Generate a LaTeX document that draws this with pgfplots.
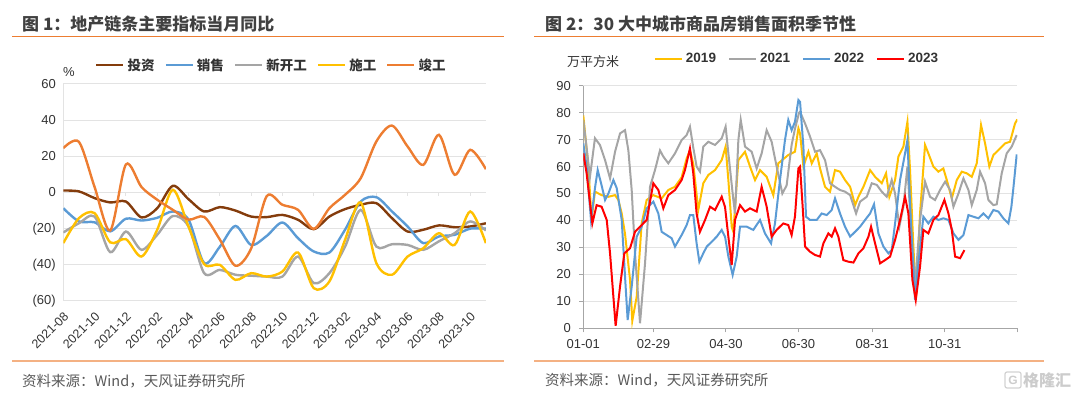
\documentclass[border=0pt]{standalone}
\usepackage{pgfplots}
\pgfplotsset{compat=1.18}
\usepackage{pgfplotstable}
\usepackage{fontspec}
\setmainfont{Liberation Sans}
\newfontfamily\cjk{Noto Sans CJK SC}
\definecolor{cInv}{HTML}{843C0C}
\definecolor{cBlue}{HTML}{5B9BD5}
\definecolor{cGray}{HTML}{A5A5A5}
\definecolor{cYel}{HTML}{FFC000}
\definecolor{cOra}{HTML}{ED7D31}
\definecolor{cRed}{HTML}{FF0000}
\definecolor{rule1}{HTML}{ED7D31}
\definecolor{rule2}{HTML}{F4B183}
\definecolor{cGrid}{HTML}{E3E3E3}
\definecolor{txt}{HTML}{333333}
\definecolor{ttl}{HTML}{404040}
\definecolor{src}{HTML}{595959}

\pgfplotstableread{
i inv sales newst cons comp
0 1.1 -8.7 -22.1 -28 24.5
1 0.6 -16 -17 -14.2 28
2 -3.1 -16.5 -13.3 -11.4 3
3 -5.5 -21.5 -33 -27.6 -21
4 -5 -14.5 -21.6 -25.8 15.5
5 -13.8 -15.5 -31.7 -35.4 3
6 -8.7 -14 -23.4 -20.6 -4
7 3.7 -10.5 -13 1.5 -9.6
8 -3.7 -15 -18.8 -18.8 -15
9 -10.5 -39 -44.6 -39.6 -13.5
10 -8.1 -30 -42.8 -40 -26
11 -10 -18.5 -45.5 -48.3 -40.5
12 -13.3 -29 -46 -44.6 -31
13 -13.6 -24 -46.5 -46.5 -2
14 -12.4 -16.6 -46.5 -43.7 -6.8
15 -15.1 -25.3 -35.4 -33.2 -9.6
16 -20.3 -32.6 -50.1 -52.9 -20.1
17 -13.3 -33.2 -44.6 -49.2 -8.7
18 -9.2 -20.6 -30 -26.2 -1.3
19 -6.8 -5 -9.6 -5.5 7.9
20 -5.9 -2.6 -29.9 -39 28.2
21 -14.2 -10.5 -28.6 -45.5 37
22 -21.6 -18.8 -29 -35.4 25.4
23 -20.6 -28 -31.7 -30.8 15.3
24 -18.2 -24.3 -27 -22.5 31.9
25 -19.2 -23.4 -22.5 -29 9.8
26 -18.8 -20 -16 -10.5 23.6
27 -17 -20 -21 -28 12.9
}\tabA

\pgfplotstableread{
d v
0 79
4.2 60
7 40.5
9.8 50.7
15.4 49.4
21.1 48.8
26.7 49.4
29.5 47.6
32.3 42.6
35.1 35
39.3 18
41.2 2.8
44.9 11.7
49.1 39
53.3 47.6
58.9 49.4
65.9 48.2
71.5 51.3
77.1 52.5
82.7 56
86.9 63
89.7 66
92.5 61
96.7 43.9
100.9 53.8
105.2 56.9
110.8 58.7
116.4 62.4
119.7 67.4
122 55
124.8 37.7
126.2 35.8
130.4 62.4
136 65.5
140.2 60
144.4 55
148.6 58.7
154.2 56.2
159.8 49.4
164 61.2
172.4 64.3
178 65.5
180.9 74.2
182.3 72.3
185.1 60
189.3 65.5
192.1 61.2
196.3 64.9
199.1 59.3
203.3 52.5
207.5 50.7
211.7 58.7
215.9 58.1
220.1 55
224.4 52.5
228.6 45.7
231.4 48.8
235.6 52.5
241.2 58.7
245.4 56.2
251 53.8
254.6 57.5
257.4 48.8
262.2 55
265 63.7
269.2 67.4
272.6 76.6
274.8 58.7
277.6 30.3
279.9 11.7
283.2 42.6
287.4 68
290.2 64.9
294.4 60
298.6 58.1
302.8 59.3
305.7 55
309.9 48.2
314.1 55
318.3 58.1
322.5 57.5
326.7 56.2
330.9 61.2
334.5 75.4
337.9 68.6
341.5 60
344.9 64.3
350.5 66.7
354.7 68.6
358.9 69.2
363.1 76
365 77.5
}\tabB

\pgfplotstableread{
d v
0 77.3
2.8 67
5.6 56.2
9.8 70.5
14 68
18.3 62.4
22.5 55.6
26.7 65.5
30.9 72.3
35.1 73.5
37.9 66
40.7 51.3
43.5 27.8
47.7 1.9
51.9 24
56.1 52.5
60.3 58.7
64.5 66
67.3 63.7
71.5 61.2
77.1 64.9
82.7 69.8
86.9 71.7
89.7 74.8
92.5 67
95.3 60
98.1 58.1
100.9 67.4
105.2 69.2
110.8 68
116.4 70.5
119.7 74.8
122 64.9
126.2 47.6
127.6 42.6
130.4 69.8
132.4 77.3
136 67.4
141.6 65.5
145.8 59.3
150 64.9
154.2 73.5
158.4 69.2
162.6 60
167.4 50
171 53
175.2 68
178 74
181.5 80
182.3 80.3
186.5 76
190.7 71.1
194.9 65.5
199.1 66.1
203.3 62.4
207.5 53.8
211.7 52.5
215.9 51.3
220.1 50.7
224.4 49.4
229.4 42.6
232.8 47
238.4 48.8
242.6 53.8
246.8 53.2
251 50.7
255.2 48.8
259.4 55
262.2 50
265.8 37.7
269.2 45.1
272.6 60
275.7 36.5
279 16
283.2 40.2
287.4 54.4
291.6 48.8
295.8 47.6
300 51.3
304.3 54.4
308.5 51.3
311.3 45.1
315.5 50
319.7 55.6
323.9 51.3
326.7 45.7
330.9 51.3
333.7 58.1
337.9 53.8
340.7 47.6
344.9 45.7
347.7 46
351.9 57.5
356.1 64.9
360.3 67.4
364.5 71.7
}\tabC

\pgfplotstableread{
d v
0 68.6
2.8 60
6.5 40
9.8 52
12.1 58.7
15.4 53
18.3 47.6
21.1 50
25.3 55
28.1 52
32.3 40.2
35.1 19.2
37.3 3.1
40.7 15.5
44.9 34
49.1 37.7
53.3 44.5
58.9 47
63.1 42.6
65.9 35.8
70.1 34.6
74.3 33.4
77.1 30.3
82.7 34.6
86.9 38.3
89.7 42
92.5 42
95.3 31.5
97.6 24.7
100.9 27.8
103.8 30.3
108 32.1
112.2 34
116.4 36.5
119.2 34
122 26.6
125.6 19.8
129 26.6
131.8 37.7
137.4 37.7
143 36.5
148.6 40.2
152.8 35.2
157.9 31.5
161.2 38.9
165.4 55
169.6 69.8
172.4 77.3
175.2 73.5
178 76.6
180.9 84.7
182.3 84
185.1 67.4
187.3 41.4
190.7 40.2
196.3 40.2
200.5 42.6
204.7 42
208.9 43.9
211.7 48.2
215.9 42.6
220.1 37.7
224.4 34
228.6 35.8
232.8 37.7
237 40.2
241.2 42.6
244.5 46
248.2 35.2
252.4 30.3
256.6 27.8
259.4 29
262.2 38.9
266.4 55
270.6 64.9
272.6 69.8
275.4 40.2
279 10.5
281.8 24.1
286 41.4
290.2 38.9
294.4 41.4
298.6 40.2
302.8 40.8
307.1 40.2
311.3 35.2
315.5 32.8
319.7 34.6
323.9 42
328.1 41.4
332.3 40.8
336.5 42.6
340.7 40.8
344.9 43.9
349.1 43.3
353.3 40.8
357.5 38.9
360 45
361.7 52
364.5 64.5
}\tabD

\pgfplotstableread{
d v
0 64.9
2.8 57.5
7.6 38.9
11.2 45.7
15.4 45.1
19.7 40.2
22.5 27.8
25.3 11.7
27.2 0.9
30.9 15.5
34.5 27.8
39.3 29.7
43.5 35.8
47.7 37.7
53.3 40.2
58.9 53.8
63.1 51.3
67.3 44.5
71.5 49.4
77.1 51.3
82.7 55
85.5 58.7
89.7 66.7
92.5 57.5
95.3 42.6
98.1 35.8
102.4 40.2
106.6 45.1
110.8 43.9
116.4 48.8
119.2 45
122 34
124.8 23.5
127.6 40.2
131.8 45.7
136 43.3
140.2 44.5
145.8 43.3
150 52.5
154.2 45.1
158.4 34
162.6 36.5
168.2 38.9
172.4 38.3
175.2 34.6
178 41.4
180.9 59.3
182.3 60
184.5 45
186.5 30.3
190.7 28.4
194.9 27.2
199.1 26.6
201.9 31.5
206.1 35.2
208.9 34
211.7 37.1
214.5 34
218.7 25.3
223 24.7
227.2 24.4
231.4 27.8
235.6 29.7
239.8 34
242 37.7
245.4 31.5
249.6 24.1
253.8 25.3
258 26.6
262.2 32.8
266.4 40.2
270.6 48.8
273.4 42.6
276.8 17.9
279.6 10.5
283.2 22.9
286 36.5
290.2 35.2
294.4 40.2
298.6 42
303.7 47.6
307.1 42.6
309.9 36.5
312.7 26.6
316.9 26
320.5 29
}\tabE

\newcommand{\fs}[1]{\fontsize{#1pt}{#1pt}\selectfont}

\begin{document}
\begin{tikzpicture}
\useasboundingbox (0pt,0pt) rectangle (1080pt,396pt);
% titles and rules
\node[anchor=west, inner sep=0pt, text=ttl] at (22pt,372pt) {\cjk\bfseries\fs{17}图 1：地产链条主要指标当月同比};
\node[anchor=west, inner sep=0pt, text=ttl] at (545pt,372pt) {\cjk\bfseries\fs{17}图 2：30 大中城市商品房销售面积季节性};
\draw[rule1, line width=1.4pt] (12pt,359.3pt) -- (504pt,359.3pt);
\draw[rule1, line width=1.4pt] (534pt,359.3pt) -- (1044pt,359.3pt);
\draw[rule2, line width=2.6pt] (12pt,35pt) -- (504pt,35pt);
\draw[rule2, line width=2.6pt] (534pt,35pt) -- (1044pt,35pt);
\node[anchor=west, inner sep=0pt, text=src] at (22pt,15pt) {\cjk\fs{14.5}资料来源：Wind，天风证券研究所};
\node[anchor=west, inner sep=0pt, text=src] at (545pt,16pt) {\cjk\fs{14.5}资料来源：Wind，天风证券研究所};
% watermark
\draw[gray!35, line width=1.2pt, rounded corners=2pt] (1005pt,8pt) rectangle (1021pt,24pt);
\node[anchor=center, inner sep=0pt, text=gray!40] at (1013pt,16pt) {\bfseries\fs{12}G};
\node[anchor=west, inner sep=0pt, text=gray!40] at (1023pt,16pt) {\cjk\bfseries\fs{16}格隆汇};
% units
\node[anchor=west, inner sep=0pt, text=txt] at (63pt,324pt) {\fs{13}\%};
\node[anchor=west, inner sep=0pt, text=txt] at (567pt,334pt) {\cjk\fs{13}万平方米};

% ---------- chart 1 ----------
\begin{axis}[
  at={(63.3pt,95pt)}, anchor=south west,
  scale only axis, width=422.6pt, height=217pt,
  xmin=0, xmax=27, ymin=-60, ymax=60,
  axis x line*=bottom, axis y line*=left,
  axis line style={cGrid, line width=1pt},
  ytick={-60,-40,-20,0,20,40,60},
  yticklabels={(60),(40),(20),0,20,40,60},
  xtick={0,2,...,26},
  xticklabels={2021-08,2021-10,2021-12,2022-02,2022-04,2022-06,2022-08,2022-10,2022-12,2023-02,2023-04,2023-06,2023-08,2023-10},
  major tick length=0pt,
  ymajorgrids, grid style={cGrid, line width=1pt},
  tick label style={text=txt},
  yticklabel style={font=\fs{13}, xshift=-4pt},
  xticklabel style={font=\fs{12.5}, anchor=east, inner sep=0pt, xshift=3pt, yshift=-13pt, rotate=45},
  legend image code/.code={\draw[#1] (0pt,0pt) -- (27pt,0pt);},
  legend style={draw=none, fill=none, at={(axis description cs:0.075,1.0876)}, anchor=west,
    legend columns=-1, inner sep=0pt, nodes={inner sep=0pt, anchor=west, text=txt, font=\cjk\bfseries\fs{13.5}},
    /tikz/every odd column/.append style={column sep=3pt},
    /tikz/every even column/.append style={column sep=10pt}},
  clip=true,
]
\addplot[ycomb, color=cGrid, line width=1pt, forget plot] coordinates {(2,-2.2) (4,-2.2) (6,-2.2) (8,-2.2) (10,-2.2) (12,-2.2) (14,-2.2) (16,-2.2) (18,-2.2) (20,-2.2) (22,-2.2) (24,-2.2) (26,-2.2)};
\addplot[cInv, line width=2.4pt, smooth] table[x=i, y=inv] {\tabA};
\addlegendentry{投资}
\addplot[cBlue, line width=2.4pt, smooth] table[x=i, y=sales] {\tabA};
\addlegendentry{销售}
\addplot[cGray, line width=2.4pt, smooth] table[x=i, y=newst] {\tabA};
\addlegendentry{新开工}
\addplot[cYel, line width=2.4pt, smooth] table[x=i, y=cons] {\tabA};
\addlegendentry{施工}
\addplot[cOra, line width=2.4pt, smooth] table[x=i, y=comp] {\tabA};
\addlegendentry{竣工}
\end{axis}

% ---------- chart 2 ----------
\begin{axis}[
  at={(583.3pt,67.7pt)}, anchor=south west,
  scale only axis, width=434pt, height=242.6pt,
  xmin=0, xmax=365, ymin=0, ymax=90,
  axis x line*=bottom, axis y line*=left,
  axis line style={gray!70, line width=1pt},
  ytick={0,10,...,90},
  xtick={0,59,120,181,243,304,365},
  xticklabels={01-01,02-29,04-30,06-30,08-31,10-31,},
  tick align=outside, major tick length=4pt,
  tick style={gray!70, line width=1pt},
  ymajorgrids, grid style={cGrid, line width=1pt},
  /pgf/number format/assume math mode=true,
  tick label style={text=txt, font=\fs{13}},
  yticklabel style={xshift=-5pt},
  xticklabel style={yshift=-4pt},
  legend image code/.code={\draw[#1] (0pt,0pt) -- (27pt,0pt);},
  legend style={draw=none, fill=none, at={(axis description cs:0.1624,1.1117)}, anchor=west,
    legend columns=-1, inner sep=0pt, nodes={inner sep=0pt, anchor=west, text=txt, font=\bfseries\fs{13.5}},
    /tikz/every odd column/.append style={column sep=3pt},
    /tikz/every even column/.append style={column sep=12pt}},
]
\addplot[cYel, line width=2pt] table[x=d, y=v] {\tabB};
\addlegendentry{2019}
\addplot[cGray, line width=2pt] table[x=d, y=v] {\tabC};
\addlegendentry{2021}
\addplot[cBlue, line width=2pt] table[x=d, y=v] {\tabD};
\addlegendentry{2022}
\addplot[cRed, line width=2pt] table[x=d, y=v] {\tabE};
\addlegendentry{2023}
\end{axis}
\end{tikzpicture}
\end{document}
